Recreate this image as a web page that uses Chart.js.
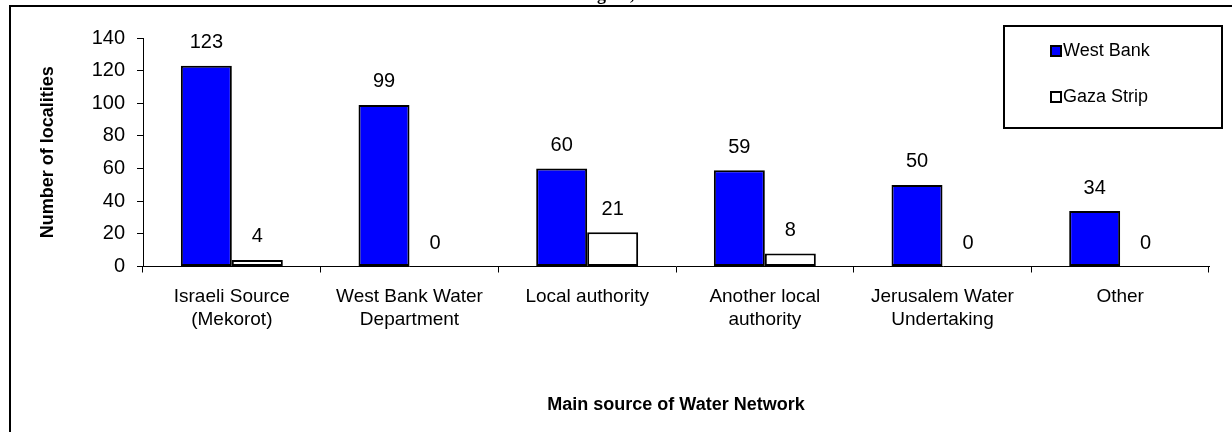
<!DOCTYPE html>
<html>
<head>
<meta charset="utf-8">
<script src="https://cdn.jsdelivr.net/npm/chart.js@4"></script>
<style>
  html, body { margin: 0; padding: 0; background: #fff; }
  canvas { display: block; }
</style>
</head>
<body>
<canvas id="chart" width="1232" height="432"></canvas>
<script>
// data
var categories = [
  ["Israeli Source", "(Mekorot)"],
  ["West Bank Water", "Department"],
  ["Local authority"],
  ["Another local", "authority"],
  ["Jerusalem Water", "Undertaking"],
  ["Other"]
];
var westBank = [123, 99, 60, 59, 50, 34];
var gazaStrip = [4, 0, 21, 8, 0, 0];
var seriesNames = ["West Bank", "Gaza Strip"];
var yTicks = { min: 0, max: 140, step: 20 };

var FONT = "'Liberation Sans', Arial, sans-serif";

// frame + clipped title fragment at the very top
var framePlugin = {
  id: 'frame',
  beforeDraw: function (chart) {
    var ctx = chart.ctx;
    ctx.save();
    ctx.fillStyle = '#fff';
    ctx.fillRect(0, 0, chart.width, chart.height);
    ctx.strokeStyle = '#000';
    ctx.lineWidth = 2;
    ctx.beginPath();
    ctx.moveTo(10, chart.height);
    ctx.lineTo(10, 6);
    ctx.lineTo(chart.width, 6);
    ctx.stroke();
    // only descenders of the page title show above the frame
    ctx.fillStyle = '#000';
    ctx.font = "bold 18px 'Liberation Serif', serif";
    ctx.textBaseline = 'alphabetic';
    ctx.textAlign = 'left';
    ctx.fillText('Region, 2003', 576, 0);
    ctx.restore();
  }
};

// value labels above each bar
var valuePlugin = {
  id: 'values',
  afterDatasetsDraw: function (chart) {
    var ctx = chart.ctx;
    ctx.save();
    ctx.fillStyle = '#000';
    ctx.font = '20px ' + FONT;
    ctx.textAlign = 'center';
    ctx.textBaseline = 'middle';
    chart.data.datasets.forEach(function (ds, di) {
      var meta = chart.getDatasetMeta(di);
      meta.data.forEach(function (bar, i) {
        ctx.fillText(String(ds.data[i]), bar.x, bar.y - 23);
      });
    });
    ctx.restore();
  }
};

// boxed legend in the top right corner
var legendPlugin = {
  id: 'boxLegend',
  afterDraw: function (chart) {
    var ctx = chart.ctx;
    ctx.save();
    ctx.strokeStyle = '#000';
    ctx.lineWidth = 2;
    ctx.strokeRect(1004, 26, 218, 102);
    ctx.font = '18px ' + FONT;
    ctx.textAlign = 'left';
    ctx.textBaseline = 'middle';
    var rows = [51, 97];
    chart.data.datasets.forEach(function (ds, di) {
      var y = rows[di];
      ctx.fillStyle = ds.backgroundColor;
      ctx.fillRect(1051, y - 5, 10, 10);
      ctx.lineWidth = 2;
      ctx.strokeRect(1051, y - 5, 10, 10);
      ctx.fillStyle = '#000';
      ctx.fillText(ds.label, 1063, y);
    });
    ctx.restore();
  }
};

var ctx = document.getElementById('chart');
var chart = new Chart(ctx, {
  type: 'bar',
  data: {
    labels: categories,
    datasets: [
      {
        label: seriesNames[0],
        data: westBank,
        backgroundColor: '#0000ff',
        borderColor: '#000',
        borderWidth: 2,
        borderSkipped: false
      },
      {
        label: seriesNames[1],
        data: gazaStrip,
        backgroundColor: '#ffffff',
        borderColor: '#000',
        borderWidth: 2,
        borderSkipped: false
      }
    ]
  },
  options: {
    responsive: false,
    animation: false,
    devicePixelRatio: 1,
    layout: { padding: { left: 30, right: 23, top: 38, bottom: 0 } },
    categoryPercentage: 0.574,
    barPercentage: 1,
    plugins: {
      legend: { display: false },
      tooltip: { enabled: false }
    },
    scales: {
      x: {
        grid: { drawOnChartArea: false, color: '#000', tickLength: 6, offset: true },
        border: { color: '#000', width: 1 },
        ticks: {
          color: '#000',
          font: { family: FONT, size: 19, lineHeight: 1.2 },
          padding: 13,
          maxRotation: 0,
          autoSkip: false
        },
        title: {
          display: true,
          text: 'Main source of Water Network',
          color: '#000',
          font: { family: FONT, size: 18, weight: 'bold', lineHeight: 1.2 },
          padding: { top: 0, bottom: 16 }
        },
        afterFit: function (scale) { scale.height = 165.5; }
      },
      y: {
        min: yTicks.min,
        max: yTicks.max,
        grid: { drawOnChartArea: false, color: '#000', tickLength: 6 },
        border: { color: '#000', width: 1 },
        ticks: {
          stepSize: yTicks.step,
          color: '#000',
          font: { family: FONT, size: 20 },
          padding: 12
        },
        title: {
          display: true,
          text: 'Number of localities',
          color: '#000',
          font: { family: FONT, size: 18, weight: 'bold', lineHeight: 1.2 },
          padding: { top: 7, bottom: 0 }
        },
        afterFit: function (scale) { scale.width = 113; }
      }
    }
  },
  plugins: [framePlugin, valuePlugin, legendPlugin]
});
</script>
</body>
</html>
